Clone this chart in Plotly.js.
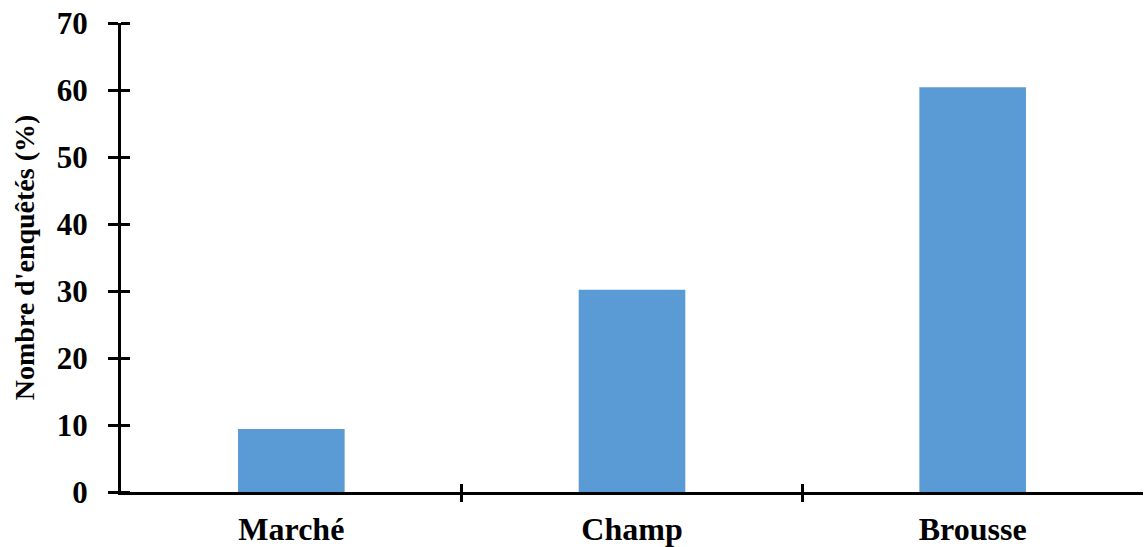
<!DOCTYPE html>
<html>
<head>
<meta charset="utf-8">
<script src="https://cdn.plot.ly/plotly-3.0.1.min.js"></script>
<style>
  html, body { margin: 0; padding: 0; background: #fff; }
  #chart { width: 1145px; height: 547px; }
</style>
</head>
<body>
<div id="chart"></div>
<script>
// Lieux d'enquête et part des enquêtés (%)
const categories = ['Marché', 'Champ', 'Brousse'];
const positions = [0, 1, 2];
const values = [9.4, 30.2, 60.4];
const yTicks = [0, 10, 20, 30, 40, 50, 60, 70];
const boundaryTicks = [0.5, 1.5];

const font = 'Liberation Serif, Times New Roman, serif';
const xRange = [-0.5, 2.5];
const yRange = [0, 70];

const traces = [
  {
    type: 'bar',
    x: positions,
    y: values,
    marker: { color: '#5B9BD5' },
    hoverinfo: 'x+y',
    showlegend: false
  },
  // empty helpers so the extra tick axes get drawn
  { type: 'scatter', x: [], y: [], xaxis: 'x2', yaxis: 'y', showlegend: false, hoverinfo: 'skip' },
  { type: 'scatter', x: [], y: [], xaxis: 'x3', yaxis: 'y', showlegend: false, hoverinfo: 'skip' },
  { type: 'scatter', x: [], y: [], xaxis: 'x', yaxis: 'y2', showlegend: false, hoverinfo: 'skip' }
];

const layout = {
  width: 1145,
  height: 547,
  margin: { l: 121, r: 2, t: 23, b: 55 },
  paper_bgcolor: '#ffffff',
  plot_bgcolor: '#ffffff',
  bargap: 0.687,
  font: { family: font, color: '#000000' },
  xaxis: {
    domain: [0, 1],
    range: xRange,
    tickvals: positions,
    ticktext: categories,
    ticks: '',
    showgrid: false,
    zeroline: false,
    showline: true,
    linecolor: '#000000',
    linewidth: 3,
    tickfont: { family: font, size: 32, color: '#000000', weight: 'bold' },
    ticklabelstandoff: 7,
    fixedrange: true
  },
  // boundary ticks below the axis
  xaxis2: {
    overlaying: 'x',
    anchor: 'y',
    side: 'bottom',
    range: xRange,
    tickvals: boundaryTicks,
    ticks: 'outside',
    ticklen: 9,
    tickwidth: 3,
    tickcolor: '#000000',
    showticklabels: false,
    showgrid: false,
    zeroline: false,
    showline: false
  },
  // boundary ticks above the axis
  xaxis3: {
    overlaying: 'x',
    anchor: 'y',
    side: 'bottom',
    range: xRange,
    tickvals: boundaryTicks,
    ticks: 'inside',
    ticklen: 8,
    tickwidth: 3,
    tickcolor: '#000000',
    showticklabels: false,
    showgrid: false,
    zeroline: false,
    showline: false
  },
  yaxis: {
    range: yRange,
    tickvals: yTicks,
    ticks: 'outside',
    ticklen: 10,
    tickwidth: 3,
    tickcolor: '#000000',
    showgrid: false,
    zeroline: false,
    showline: true,
    linecolor: '#000000',
    linewidth: 3,
    tickfont: { family: font, size: 31, color: '#000000', weight: 'bold' },
    ticklabelstandoff: 14,
    title: {
      text: "Nombre d'enquêtés (%)",
      font: { family: font, size: 28, color: '#000000', weight: 'bold' },
      standoff: 14
    },
    fixedrange: true
  },
  // tick marks on the plot side of the vertical axis
  yaxis2: {
    overlaying: 'y',
    anchor: 'free',
    position: 0.0085,
    side: 'left',
    range: yRange,
    tickvals: yTicks,
    ticks: 'outside',
    ticklen: 9,
    tickwidth: 3,
    tickcolor: '#000000',
    showticklabels: false,
    showgrid: false,
    zeroline: false,
    showline: false
  }
};

Plotly.newPlot('chart', traces, layout, { displayModeBar: false, staticPlot: true });
</script>
</body>
</html>
